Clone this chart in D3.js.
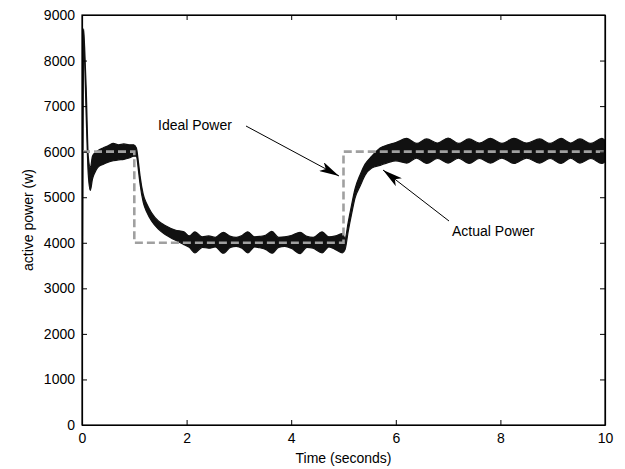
<!DOCTYPE html>
<html>
<head>
<meta charset="utf-8">
<script src="https://cdn.jsdelivr.net/npm/d3@7"></script>
<style>
  body { margin: 0; background: #fff; }
  text { font-family: "Liberation Sans", Arial, sans-serif; }
</style>
</head>
<body>
<div id="chart"></div>
<script>
// ideal power (step reference)
const idealT = [0, 1.0, 1.0, 5.0, 5.0, 10];
const idealP = [6000, 6000, 4000, 4000, 6000, 6000];

// actual power, read as lower / upper edge of the black band
const actualT = [0, 0.03, 0.05, 0.08, 0.12, 0.16, 0.2, 0.25, 0.3, 0.4, 0.5, 0.6, 0.7, 0.8, 0.9, 0.99,
  1.04, 1.08, 1.11, 1.17, 1.24, 1.33, 1.46, 1.59, 1.78, 1.95,
  2.05, 2.16, 2.3, 2.42, 2.55, 2.7, 2.84, 2.95, 3.06, 3.17, 3.3, 3.4, 3.52, 3.63, 3.76, 3.88,
  4.0, 4.17, 4.3, 4.42, 4.59, 4.72, 4.85, 4.98,
  5.03, 5.09, 5.16, 5.22, 5.32, 5.41, 5.54, 5.7, 5.85, 6.0,
  6.21, 6.4, 6.59, 6.8, 7.0, 7.2, 7.4, 7.6, 7.81, 8.03, 8.26, 8.5, 8.75, 8.95,
  9.16, 9.34, 9.52, 9.73, 9.94, 10];
const actualLow = [0, 8650, 8000, 6800, 5500, 5150, 5400, 5550, 5650, 5720, 5770, 5800, 5820, 5830, 5860, 5900,
  5900, 5580, 5290, 4890, 4670, 4480, 4300, 4180, 4060, 3960,
  3900, 3780, 3900, 3880, 3910, 3770, 3900, 3920, 3880, 3780, 3910, 3890, 3850, 3770, 3900, 3920,
  3880, 3760, 3900, 3880, 3780, 3910, 3850, 3780,
  3850, 4250, 4660, 4980, 5250, 5480, 5640, 5700, 5760, 5800,
  5750, 5860, 5740, 5850, 5750, 5860, 5740, 5850, 5750, 5860, 5740, 5860, 5750, 5850,
  5740, 5860, 5750, 5850, 5740, 5780];
const actualHigh = [0, 8700, 8300, 7400, 5900, 5650, 5900, 5980, 6020, 6080, 6130, 6180, 6150, 6170, 6150, 6150,
  6080, 5760, 5470, 5070, 4850, 4660, 4480, 4380, 4280, 4240,
  4150, 4240, 4130, 4150, 4120, 4230, 4140, 4120, 4160, 4240, 4130, 4140, 4170, 4250, 4120, 4130,
  4160, 4230, 4140, 4120, 4240, 4130, 4150, 4200,
  4100, 4450, 4860, 5180, 5500, 5720, 5900, 6080, 6150, 6200,
  6290, 6180, 6280, 6190, 6300, 6180, 6280, 6190, 6290, 6180, 6290, 6190, 6280, 6180,
  6290, 6190, 6280, 6180, 6290, 6250];

const xTicks = [0, 2, 4, 6, 8, 10];
const yTicks = [0, 1000, 2000, 3000, 4000, 5000, 6000, 7000, 8000, 9000];

//size
const width = 625;
const height = 469;
const margin = { top: 15, bottom: 44, left: 82, right: 20 };
const innerWidth = width - margin.left - margin.right;
const innerHeight = height - margin.top - margin.bottom;

const xScale = d3.scaleLinear().domain([0, 10]).range([0, innerWidth]);
const yScale = d3.scaleLinear().domain([0, 9000]).range([innerHeight, 0]);

const svg = d3.select("#chart")
  .append("svg")
  .attr("width", width)
  .attr("height", height);

const g = svg.append("g")
  .attr("transform", `translate(${margin.left},${margin.top})`);

svg.append("clipPath").attr("id", "plot")
  .append("rect").attr("width", innerWidth).attr("height", innerHeight);

// actual power band
const band = actualT.map((t, i) => ({ t, lo: actualLow[i], hi: actualHigh[i] }));
g.append("path")
  .datum(band)
  .attr("clip-path", "url(#plot)")
  .attr("fill", "#111")
  .attr("stroke", "#111")
  .attr("stroke-width", 1.2)
  .attr("d", d3.area()
    .x((d) => xScale(d.t))
    .y0((d) => yScale(d.lo))
    .y1((d) => yScale(d.hi))
    .curve(d3.curveMonotoneX));

// ideal power
g.append("path")
  .datum(idealT.map((t, i) => [t, idealP[i]]))
  .attr("fill", "none")
  .attr("stroke", "#a0a0a0")
  .attr("stroke-width", 2.6)
  .attr("stroke-dasharray", "8,4")
  .attr("d", d3.line().x((d) => xScale(d[0])).y((d) => yScale(d[1])));

// axes, MATLAB style box with inward ticks
const tick = 5;
g.append("g")
  .attr("transform", `translate(0,${innerHeight})`)
  .call(d3.axisBottom(xScale).tickValues(xTicks).tickSizeInner(-tick).tickSizeOuter(0).tickPadding(8));
g.append("g")
  .call(d3.axisLeft(yScale).tickValues(yTicks).tickFormat(d3.format("d")).tickSizeInner(-tick).tickSizeOuter(0).tickPadding(7));
g.append("g")
  .attr("class", "bare")
  .call(d3.axisTop(xScale).tickValues(xTicks).tickSizeInner(-tick).tickSizeOuter(0));
g.append("g")
  .attr("class", "bare")
  .attr("transform", `translate(${innerWidth},0)`)
  .call(d3.axisRight(yScale).tickValues(yTicks).tickSizeInner(-tick).tickSizeOuter(0));
g.selectAll(".bare text").remove();
g.selectAll(".tick text")
  .attr("font-size", 14)
  .attr("fill", "#000");
g.selectAll("g").attr("font-family", null).attr("font-size", null);
g.selectAll(".domain").attr("stroke", "#000").attr("stroke-width", 1.2);
g.selectAll(".tick line").attr("stroke", "#000");
g.append("rect")
  .attr("width", innerWidth).attr("height", innerHeight)
  .attr("fill", "none").attr("stroke", "#000").attr("stroke-width", 1.2);

// labels
svg.append("text")
  .attr("x", margin.left + innerWidth / 2)
  .attr("y", 463)
  .attr("text-anchor", "middle")
  .attr("font-size", 14)
  .text("Time (seconds)");
svg.append("text")
  .attr("transform", `translate(33,${margin.top + innerHeight / 2}) rotate(-90)`)
  .attr("text-anchor", "middle")
  .attr("font-size", 14)
  .text("active power (w)");

// annotations
svg.append("defs").append("marker")
  .attr("id", "head")
  .attr("viewBox", "0 0 20 10")
  .attr("refX", 20).attr("refY", 5)
  .attr("markerWidth", 20).attr("markerHeight", 10)
  .attr("markerUnits", "userSpaceOnUse")
  .attr("orient", "auto")
  .append("path")
  .attr("d", "M0,0 L20,5 L0,10 L5,5 Z")
  .attr("fill", "#000");

const notes = [
  { text: "Ideal Power", tx: 158, ty: 130, x1: 246, y1: 126, x2: 339, y2: 176 },
  { text: "Actual Power", tx: 452, ty: 236, x1: 449, y1: 221, x2: 383, y2: 170 }
];
notes.forEach((n) => {
  svg.append("text").attr("x", n.tx).attr("y", n.ty).attr("font-size", 14).text(n.text);
  svg.append("line")
    .attr("x1", n.x1).attr("y1", n.y1).attr("x2", n.x2).attr("y2", n.y2)
    .attr("stroke", "#000").attr("stroke-width", 1)
    .attr("marker-end", "url(#head)");
});
</script>
</body>
</html>
